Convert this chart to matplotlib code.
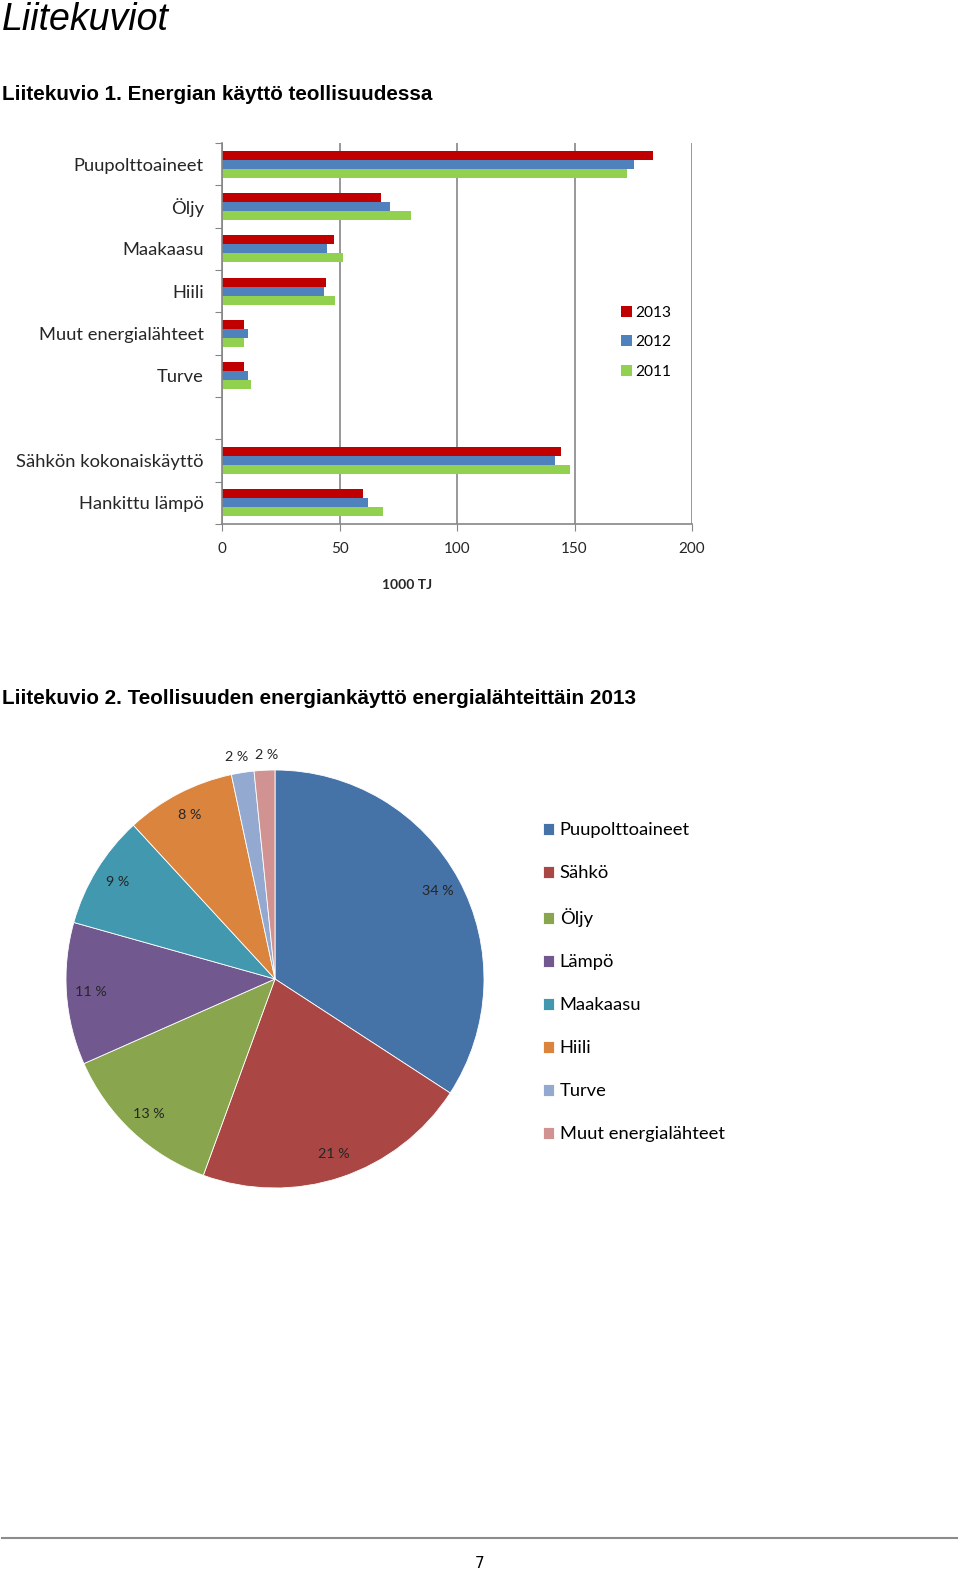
import matplotlib
matplotlib.use("Agg")
import matplotlib.pyplot as plt
import numpy as np

# ---------------- data ----------------
bar_categories = ["Puupolttoaineet", "Öljy", "Maakaasu", "Hiili",
                  "Muut energialähteet", "Turve", "",
                  "Sähkön kokonaiskäyttö", "Hankittu lämpö"]
years = ["2013", "2012", "2011"]
vals_2013 = [183.4, 67.6, 47.5, 44.2, 9.2, 9.2, np.nan, 144.1, 59.8]
vals_2012 = [175.5, 71.4, 44.8, 43.2, 10.9, 10.9, np.nan, 141.9, 62.3]
vals_2011 = [172.2, 80.3, 51.3, 48.0, 9.2, 12.3, np.nan, 147.9, 68.7]
x_ticks = [0, 50, 100, 150, 200]
x_label = "1000 TJ"

pie_labels = ["Puupolttoaineet", "Sähkö", "Öljy", "Lämpö", "Maakaasu",
              "Hiili", "Turve", "Muut energialähteet"]
pie_values = [34.2, 21.4, 12.8, 11.0, 8.8, 8.5, 1.75, 1.6]

title_main = "Liitekuviot"
title_1 = "Liitekuvio 1. Energian käyttö teollisuudessa"
title_2 = "Liitekuvio 2. Teollisuuden energiankäyttö energialähteittäin 2013"
page_no = "7"

# ---------------- styles ----------------
bar_colors = ["#C00000", "#4F81BD", "#92D050"]
pie_colors = ["#4572A7", "#AA4643", "#89A54E", "#71588F", "#4198AF",
              "#DB843D", "#93A9CF", "#D19392"]
W, H, DPI = 960, 1572, 100
chart_font = "Lato"
doc_font = "Liberation Sans"
grey = "#868686"

fig = plt.figure(figsize=(W / DPI, H / DPI), dpi=DPI)
fig.patch.set_facecolor("white")

def fx(px):
    return px / W

def fy(py):
    return 1 - py / H

# document texts
fig.text(fx(2), fy(30), title_main, family=doc_font, style="italic",
         fontsize=27, va="baseline", ha="left")
fig.text(fx(2), fy(100), title_1, family=doc_font, weight="bold",
         fontsize=14.9, va="baseline", ha="left")
fig.text(fx(2), fy(704), title_2, family=doc_font, weight="bold",
         fontsize=14.9, va="baseline", ha="left")

# ---------------- bar chart ----------------
ax_l, ax_r, ax_t, ax_b = 222, 692, 143, 524
ax = fig.add_axes([fx(ax_l), fy(ax_b), fx(ax_r - ax_l), (ax_b - ax_t) / H])
n = len(bar_categories)
centers = np.arange(n) + 0.5
h = 0.213
for k, (vals, col, yr) in enumerate(zip([vals_2013, vals_2012, vals_2011],
                                         bar_colors, years)):
    ax.barh(centers + (k - 1) * h, vals, height=h, color=col, label=yr,
            edgecolor="none")
ax.set_xlim(0, 200)
ax.set_ylim(n, 0)
ax.set_xticks(x_ticks)
ax.set_xticklabels([str(t) for t in x_ticks], family=chart_font,
                   fontsize=11, color="#262626")
ax.set_yticks(np.arange(n + 1))
ax.set_yticklabels([])
ax.set_yticks(centers, minor=True)
ax.set_yticklabels(bar_categories, minor=True, family=chart_font,
                   fontsize=13.2, color="#262626")
ax.tick_params(axis="y", which="major", length=5, color=grey, direction="out")
ax.tick_params(axis="y", which="minor", length=0, pad=13)
ax.tick_params(axis="x", length=5, color=grey, direction="out", pad=8)
for s in ["top", "right"]:
    ax.spines[s].set_visible(False)
for s in ["left", "bottom"]:
    ax.spines[s].set_color(grey)
    ax.spines[s].set_linewidth(1.2)
ax.xaxis.grid(True, color=grey, linewidth=1.2)
ax.set_axisbelow(True)
fig.text(fx(407), fy(585), x_label, family=chart_font, weight="bold",
         fontsize=10, ha="center", va="center", color="#262626")
ax.legend(loc="upper left",
          bbox_to_anchor=((613 - ax_l) / (ax_r - ax_l), (ax_b - 298) / (ax_b - ax_t)),
          frameon=False, prop={"family": chart_font, "size": 11.2},
          handlelength=0.72, handleheight=0.72, handletextpad=0.2,
          labelspacing=1.0, borderpad=0)

# ---------------- pie chart ----------------
cx, cy, r = 275, 979, 209
pax = fig.add_axes([fx(cx - r), fy(cy + r), 2 * r / W, 2 * r / H])
wedges, texts, autotexts = pax.pie(
    pie_values, colors=pie_colors, startangle=90, counterclock=False,
    autopct=lambda p: "%.0f %%" % p, pctdistance=0.885,
    wedgeprops={"edgecolor": "white", "linewidth": 0.6},
    textprops={"family": chart_font, "fontsize": 10.3, "color": "#262626"})
small = [i for i, v in enumerate(pie_values) if v < 3]
for j, i in enumerate(small):
    t = autotexts[i]
    x, y = t.get_position()
    rad = np.hypot(x, y)
    nudge = (-0.018 if j == 0 else 0.012)
    t.set_position((x / rad * 1.075 + nudge, y / rad * 1.075))
pax.set_xlim(-1, 1)
pax.set_ylim(-1, 1)
pax.set_aspect("equal")
pax.axis("off")

fig.legend(wedges, pie_labels, loc="upper left",
           bbox_to_anchor=(fx(534), fy(813)), frameon=False,
           prop={"family": chart_font, "size": 13.2},
           handlelength=0.6, handleheight=0.6, handletextpad=0.3,
           labelspacing=1.475, borderpad=0)

# ---------------- footer ----------------
fig.add_artist(plt.Line2D([fx(2), fx(957)], [fy(1538), fy(1538)],
                          color="#8c8c8c", linewidth=1.5))
fig.text(fx(480), fy(1564), page_no, family="DejaVu Sans Condensed",
         fontsize=11, ha="center", va="center")

fig.savefig("out.png", dpi=DPI)
